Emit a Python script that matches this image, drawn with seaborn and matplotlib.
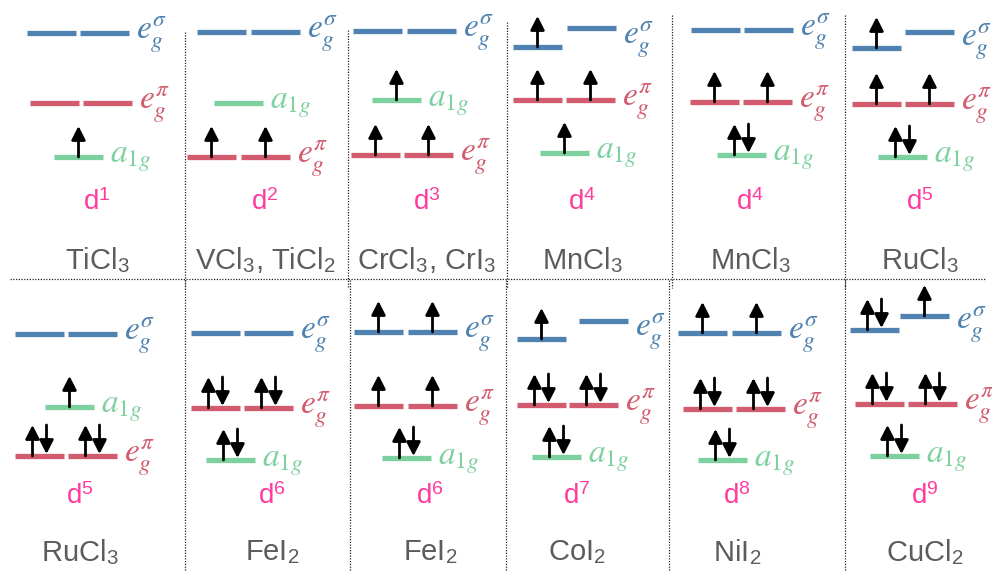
"""Crystal-field level diagrams for d^n transition metal halides."""
import matplotlib.pyplot as plt
import pandas as pd
import seaborn as sns

sns.set_theme(style="white")
plt.rcParams["font.family"] = ["Liberation Sans", "DejaVu Sans"]
plt.rcParams["mathtext.fontset"] = "stix"

# panel texts
compounds = [
    "TiCl$_\\mathregular{3}$",
    "VCl$_\\mathregular{3}$, TiCl$_\\mathregular{2}$",
    "CrCl$_\\mathregular{3}$, CrI$_\\mathregular{3}$",
    "MnCl$_\\mathregular{3}$",
    "MnCl$_\\mathregular{3}$",
    "RuCl$_\\mathregular{3}$",
    "RuCl$_\\mathregular{3}$",
    "FeI$_\\mathregular{2}$",
    "FeI$_\\mathregular{2}$",
    "CoI$_\\mathregular{2}$",
    "NiI$_\\mathregular{2}$",
    "CuCl$_\\mathregular{2}$",
]
d_counts = [1, 2, 3, 4, 4, 5, 5, 6, 6, 7, 8, 9]
text_x = [97, 265, 427, 582, 750, 920, 80, 272, 430, 577, 737, 925]
row_of_panel = [0] * 6 + [1] * 6
d_label_y = [203, 497]
name_y = [260, 552]

# levels: panel, orbital, left edge, energy (screen y), occupation
levels = [
    (0, "es", 27, 33, ""), (0, "es", 80, 33, ""),
    (0, "ep", 30, 103, ""), (0, "ep", 83, 103, ""),
    (0, "a", 54, 157, "u"),
    (1, "es", 197, 32, ""), (1, "es", 251, 32, ""),
    (1, "a", 214, 103, ""),
    (1, "ep", 187, 157, "u"), (1, "ep", 241, 157, "u"),
    (2, "es", 353, 31, ""), (2, "es", 407, 31, ""),
    (2, "a", 372, 100, "u"),
    (2, "ep", 351, 155, "u"), (2, "ep", 404, 155, "u"),
    (3, "es", 513, 47, "u"), (3, "es", 567, 28, ""),
    (3, "ep", 513, 100, "u"), (3, "ep", 566, 100, "u"),
    (3, "a", 540, 153, "u"),
    (4, "es", 691, 30, ""), (4, "es", 744, 30, ""),
    (4, "ep", 690, 102, "u"), (4, "ep", 743, 102, "u"),
    (4, "a", 717, 155, "ud"),
    (5, "es", 852, 48, "u"), (5, "es", 905, 32, ""),
    (5, "ep", 852, 104, "u"), (5, "ep", 905, 104, "u"),
    (5, "a", 878, 157, "ud"),
    (6, "es", 15, 334, ""), (6, "es", 68, 334, ""),
    (6, "a", 45, 407, "u"),
    (6, "ep", 15, 456, "ud"), (6, "ep", 68, 456, "ud"),
    (7, "es", 191, 333, ""), (7, "es", 244, 333, ""),
    (7, "ep", 191, 408, "ud"), (7, "ep", 244, 408, "ud"),
    (7, "a", 206, 460, "ud"),
    (8, "es", 354, 332, "u"), (8, "es", 408, 332, "u"),
    (8, "ep", 354, 406, "u"), (8, "ep", 408, 406, "u"),
    (8, "a", 382, 458, "ud"),
    (9, "es", 517, 339, "u"), (9, "es", 579, 321, ""),
    (9, "ep", 517, 405, "ud"), (9, "ep", 569, 405, "ud"),
    (9, "a", 532, 457, "ud"),
    (10, "es", 678, 333, "u"), (10, "es", 732, 333, "u"),
    (10, "ep", 683, 409, "ud"), (10, "ep", 736, 409, "ud"),
    (10, "a", 698, 460, "ud"),
    (11, "es", 850, 330, "ud"), (11, "es", 900, 316, "u"),
    (11, "ep", 855, 404, "ud"), (11, "ep", 908, 404, "ud"),
    (11, "a", 870, 456, "ud"),
]

orbital_labels = {"es": "$e_g^\\sigma$", "ep": "$e_g^\\pi$", "a": "$a_{1g}$"}
orbital_colors = {"es": "#4f82b0", "ep": "#d25b6e", "a": "#7dd19f"}

top_dividers = [(185, 32), (348, 30), (507, 22), (672, 15), (845, 15)]
bottom_dividers = [185, 350, 506, 669, 845]

if __name__ == "__main__":
    df = pd.DataFrame(levels, columns=["panel", "orb", "x", "y", "occ"])
    bar_w = 49
    df["x_end"] = df["x"] + bar_w
    df["xc"] = df["x"] + bar_w / 2

    fig = plt.figure(figsize=(9.92, 5.72), dpi=100)
    ax = fig.add_axes([0, 0, 1, 1])
    ax.set_xlim(0, 992)
    ax.set_ylim(572, 0)
    ax.set_axis_off()

    # dividers
    dot = (0, (1, 1.2))
    ax.hlines(279, 10, 985, color="#222222", lw=0.9, linestyles=[dot])
    for x, y0 in top_dividers:
        ax.vlines(x, y0, 288, color="#222222", lw=0.9, linestyles=[dot])
    for x in bottom_dividers:
        ax.vlines(x, 280, 572, color="#222222", lw=0.9, linestyles=[dot])

    # levels
    for orb, grp in df.groupby("orb"):
        ax.hlines(grp["y"], grp["x"], grp["x_end"], color=orbital_colors[orb],
                  lw=3.8, zorder=2)

    # spins
    arrow_len = 31
    style = "-|>,head_length=0.55,head_width=0.28"
    for _, row in df.iterrows():
        if row["occ"] == "u":
            ups, downs = [row["xc"]], []
        elif row["occ"] == "ud":
            ups, downs = [row["xc"] - 7], [row["xc"] + 7]
        else:
            ups, downs = [], []
        for x in ups:
            ax.annotate("", xy=(x, row["y"] - arrow_len), xytext=(x, row["y"]),
                        arrowprops=dict(arrowstyle=style, lw=2, color="black",
                                        mutation_scale=15, shrinkA=0, shrinkB=0),
                        zorder=3)
        for x in downs:
            ax.annotate("", xy=(x, row["y"] - 2), xytext=(x, row["y"] - arrow_len),
                        arrowprops=dict(arrowstyle=style, lw=2, color="black",
                                        mutation_scale=15, shrinkA=0, shrinkB=0),
                        zorder=3)

    # orbital labels
    for (panel, orb), grp in df.groupby(["panel", "orb"]):
        lx = grp["x_end"].max() + 7
        ly = grp["y"].mean() + 2
        ax.text(lx, ly, orbital_labels[orb], color=orbital_colors[orb],
                fontsize=24, ha="left", va="center")

    # d-count and compound names
    for i, name in enumerate(compounds):
        r = row_of_panel[i]
        ax.text(text_x[i], d_label_y[r], f"d$^\\mathregular{{{d_counts[i]}}}$",
                color="#ff3b9d", fontsize=20, ha="center", va="center")
        ax.text(text_x[i], name_y[r], name, color="#5c5c5c", fontsize=21,
                ha="center", va="center")

    fig.savefig("out.png", dpi=100)
